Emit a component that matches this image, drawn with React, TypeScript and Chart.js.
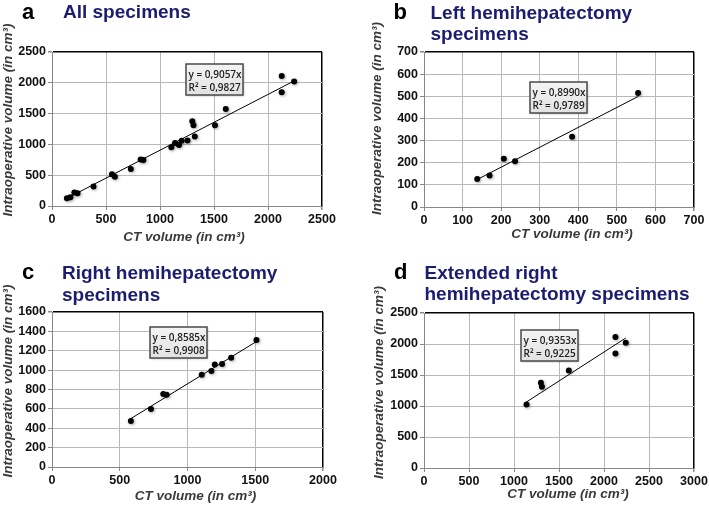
import React, { useEffect, useRef } from 'react';
import { Chart, registerables } from 'chart.js';

Chart.register(...registerables);

// ---- Data ----
const leftCT = [138, 170, 207, 236, 384, 555];
const leftIO = [127, 142, 218, 207, 317, 515];
const rightCT = [582, 730, 821, 846, 1105, 1176, 1201, 1255, 1322, 1509];
const rightIO = [475, 599, 754, 747, 953, 991, 1058, 1063, 1129, 1311];
const extCT = [1139, 1299, 1310, 1609, 2127, 2127, 2242];
const extIO = [1024, 1374, 1309, 1573, 2112, 1848, 2020];
const allCT = [...leftCT, ...rightCT, ...extCT];
const allIO = [...leftIO, ...rightIO, ...extIO];

const panelLetters = ['a', 'b', 'c', 'd'];
const panelTitles = [
  ['All specimens'],
  ['Left hemihepatectomy', 'specimens'],
  ['Right hemihepatectomy', 'specimens'],
  ['Extended right', 'hemihepatectomy specimens'],
];
const slopes = [0.9057, 0.899, 0.8585, 0.9353];
const rSquared = [0.9827, 0.9789, 0.9908, 0.9225];
const xMaxes = [2500, 700, 2000, 3000];
const xSteps = [500, 100, 500, 500];
const yMaxes = [2500, 700, 1600, 2500];
const ySteps = [500, 100, 200, 500];
const xTitle = 'CT volume (in cm³)';
const yTitle = 'Intraoperative volume (in cm³)';

const ctData = [allCT, leftCT, rightCT, extCT];
const ioData = [allIO, leftIO, rightIO, extIO];

// ---- Layout (positions only) ----
const layouts = [
  { left: 0, top: 0, w: 355, h: 253, plot: [52, 52, 322, 206], letter: [22, 19], title: [63, 18], xT: [184, 241], yT: [8, 120], box: [186, 64] },
  { left: 355, top: 0, w: 354, h: 253, plot: [69, 52, 339, 207], letter: [38.5, 19], title: [75.5, 18.5], xT: [217, 238], yT: [22.5, 118.5], box: [175, 82] },
  { left: 0, top: 253, w: 355, h: 253, plot: [52, 59, 323, 214], letter: [22, 26], title: [62, 26], xT: [195.5, 247], yT: [8.7, 128], box: [150, 74] },
  { left: 355, top: 253, w: 354, h: 253, plot: [69, 60, 339, 215], letter: [39, 26], title: [69.5, 25.7], xT: [213, 245], yT: [24.5, 129.5], box: [166, 77] },
];

const FONT = '"Liberation Sans", Arial, sans-serif';
const NAVY = '#1c1c70';

const fmt = (v: number) => v.toFixed(4).replace('.', ',');

function Panel({ idx }: { idx: number }) {
  const ref = useRef<HTMLCanvasElement | null>(null);
  const L = layouts[idx];

  useEffect(() => {
    const [pl, pt, pr, pb] = L.plot;
    const xs = ctData[idx];
    const ys = ioData[idx];
    const pts = xs.map((x, i) => ({ x, y: ys[i] }));
    const x0 = Math.min(...xs);
    const x1 = Math.max(...xs);
    const trend = [
      { x: x0, y: slopes[idx] * x0 },
      { x: x1, y: slopes[idx] * x1 },
    ];
    const xMax = xMaxes[idx];
    const yMax = yMaxes[idx];

    const shadowPlugin = {
      id: 'pointShadow',
      beforeDatasetDraw(chart: any, args: any) {
        if (args.index === 0) {
          const c = chart.ctx;
          c.save();
          c.shadowColor = 'rgba(0,0,0,0.35)';
          c.shadowBlur = 3;
          c.shadowOffsetX = 1;
          c.shadowOffsetY = 1;
        }
      },
      afterDatasetDraw(chart: any, args: any) {
        if (args.index === 0) chart.ctx.restore();
      },
    };

    const decorPlugin = {
      id: 'decor',
      afterDraw(chart: any) {
        const c = chart.ctx as CanvasRenderingContext2D;
        c.save();
        // panel letter
        c.fillStyle = '#000';
        c.font = `bold 22px ${FONT}`;
        c.textAlign = 'left';
        c.textBaseline = 'alphabetic';
        c.fillText(panelLetters[idx], L.letter[0], L.letter[1]);
        // title lines
        c.fillStyle = NAVY;
        c.font = `bold 19px ${FONT}`;
        panelTitles[idx].forEach((t, i) => {
          c.fillText(t, L.title[0], L.title[1] + i * 21.5);
        });
        // axis titles
        c.fillStyle = '#3a3a3a';
        c.font = `italic bold 13.5px ${FONT}`;
        c.textAlign = 'center';
        c.fillText(xTitle, L.xT[0], L.xT[1]);
        c.save();
        c.translate(L.yT[0], L.yT[1]);
        c.rotate(-Math.PI / 2);
        c.textBaseline = 'middle';
        c.fillText(yTitle, 0, 0);
        c.restore();
        // equation box
        const [bx, by] = L.box;
        const bw = 57;
        const bh = 31;
        c.save();
        c.shadowColor = 'rgba(0,0,0,0.25)';
        c.shadowBlur = 2;
        c.shadowOffsetX = 1;
        c.shadowOffsetY = 1;
        const g = c.createLinearGradient(0, by, 0, by + bh);
        g.addColorStop(0, '#f4f4f4');
        g.addColorStop(1, '#e2e2e2');
        c.fillStyle = g;
        c.fillRect(bx, by, bw, bh);
        c.restore();
        c.strokeStyle = '#4a4a4a';
        c.lineWidth = 1.5;
        c.strokeRect(bx, by, bw, bh);
        c.fillStyle = '#222';
        c.font = `600 10px "Open Sans", "Liberation Sans", sans-serif`;
        c.textAlign = 'left';
        c.textBaseline = 'alphabetic';
        c.fillText(`y = ${fmt(slopes[idx])}x`, bx + 2.5, by + 13.5);
        c.fillText(`R² = ${fmt(rSquared[idx])}`, bx + 2.5, by + 26.8);
        c.restore();
      },
    };

    const tickFont = { family: FONT, size: 12.5, weight: 'bold' as const };
    const plain = (v: any) => String(v);

    const chart = new Chart(ref.current as HTMLCanvasElement, {
      type: 'scatter',
      data: {
        datasets: [
          {
            data: pts,
            backgroundColor: '#000',
            borderColor: '#000',
            pointRadius: 3,
            pointHoverRadius: 3,
            borderWidth: 0,
            order: 1,
          } as any,
          {
            type: 'line',
            data: trend,
            showLine: true,
            borderColor: '#000',
            borderWidth: 1,
            pointRadius: 0,
            fill: false,
            order: 2,
          } as any,
        ],
      },
      options: {
        responsive: false,
        animation: false,
        events: [],
        layout: { padding: { left: 0, top: pt, right: L.w - pr, bottom: 0 } },
        plugins: { legend: { display: false }, tooltip: { enabled: false }, title: { display: false } },
        scales: {
          x: {
            type: 'linear',
            min: 0,
            max: xMax,
            ticks: { stepSize: xSteps[idx], color: '#111', font: tickFont, padding: 2, maxRotation: 0, autoSkip: false, callback: plain },
            grid: {
              color: (c: any) => (c.tick && c.tick.value === xMax ? '#000' : '#b8b8b8'),
              lineWidth: (c: any) => (c.tick && c.tick.value === xMax ? 1.5 : 1),
              tickColor: '#888',
              tickLength: 4,
              drawTicks: true,
            },
            border: { color: '#888', width: 1 },
            afterFit: (s: any) => {
              s.height = L.h - pb;
              s.paddingLeft = 0;
              s.paddingRight = 0;
            },
          },
          y: {
            type: 'linear',
            min: 0,
            max: yMax,
            ticks: { stepSize: ySteps[idx], color: '#111', font: tickFont, padding: 2, autoSkip: false, callback: plain },
            grid: {
              color: (c: any) => (c.tick && c.tick.value === yMax ? '#000' : '#b8b8b8'),
              lineWidth: (c: any) => (c.tick && c.tick.value === yMax ? 1.5 : 1),
              tickColor: '#888',
              tickLength: 4,
              drawTicks: true,
            },
            border: { color: '#888', width: 1 },
            afterFit: (s: any) => {
              s.width = pl;
              s.paddingTop = 0;
              s.paddingBottom = 0;
            },
          },
        },
      },
      plugins: [shadowPlugin, decorPlugin],
    } as any);

    return () => chart.destroy();
  }, [idx]);

  return (
    <canvas
      ref={ref}
      width={L.w}
      height={L.h}
      style={{ position: 'absolute', left: L.left, top: L.top, width: L.w, height: L.h }}
    />
  );
}

export default function App() {
  return (
    <div style={{ position: 'absolute', left: 0, top: 0, width: 709, height: 506, background: '#fff', overflow: 'hidden' }}>
      {[0, 1, 2, 3].map((i) => (
        <Panel key={i} idx={i} />
      ))}
    </div>
  );
}
